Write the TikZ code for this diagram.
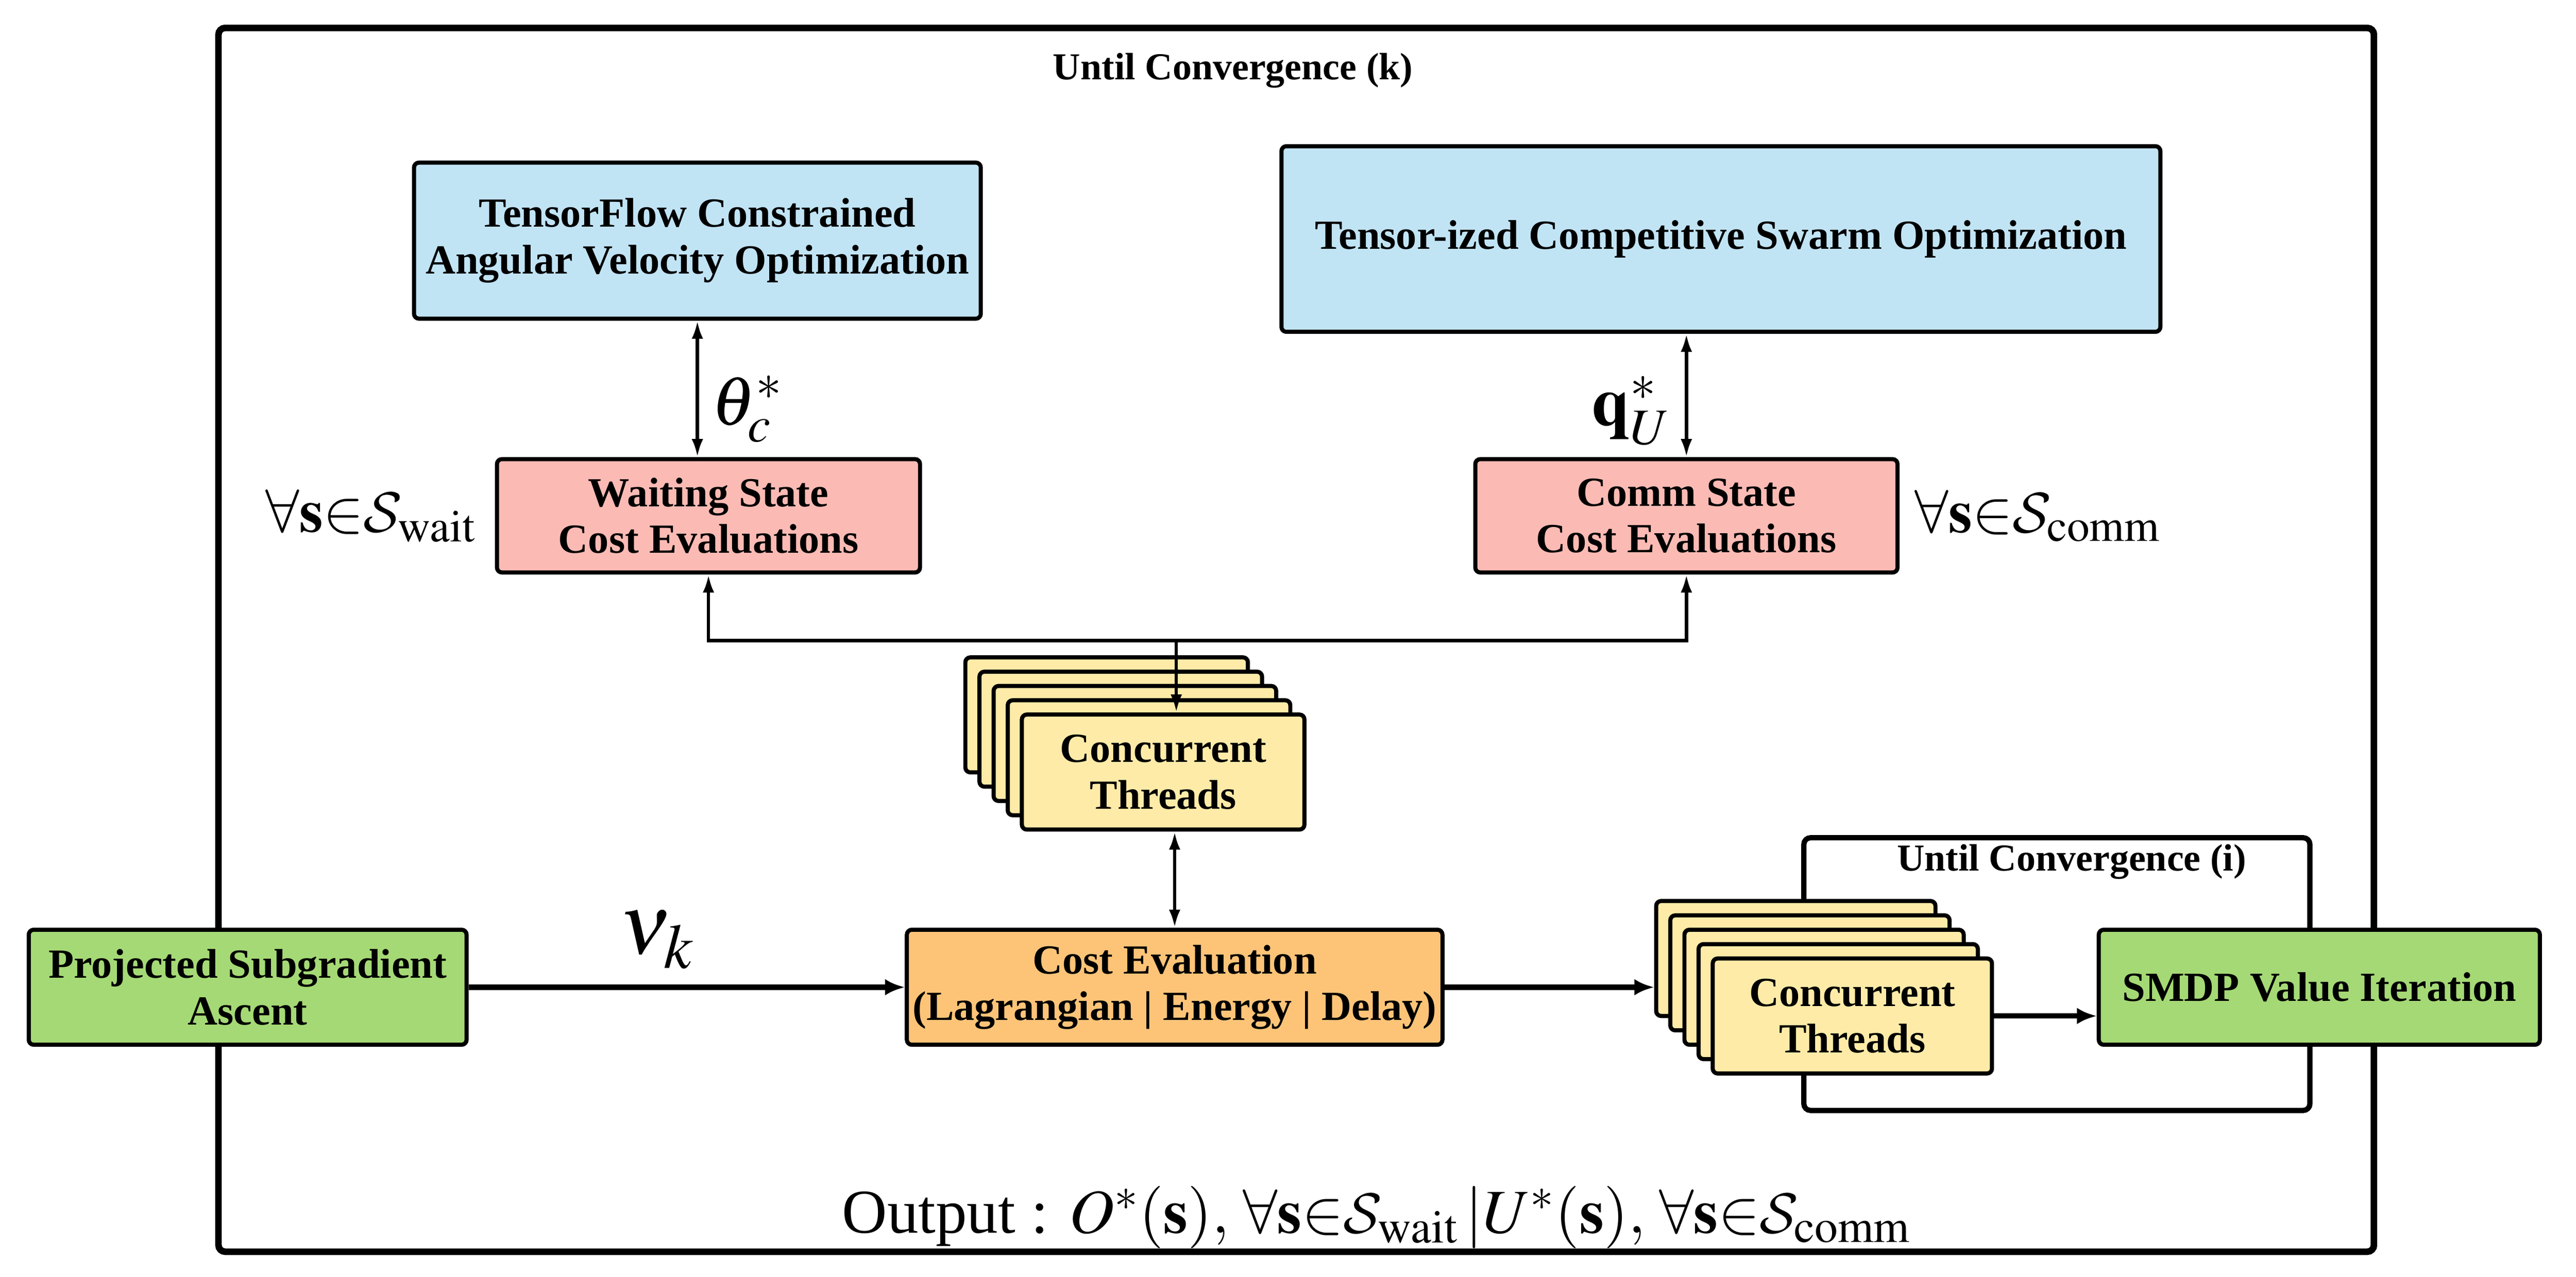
\documentclass[tikz,border=0pt]{standalone}
\usepackage{mathptmx}
\DeclareMathAlphabet{\mathcal}{OMS}{cmsy}{m}{n}
\usepackage{fontspec}
\setmainfont{Liberation Serif}
\usetikzlibrary{arrows.meta}
\definecolor{cblue}{RGB}{193,228,245}
\definecolor{cpink}{RGB}{251,187,180}
\definecolor{cyel}{RGB}{255,235,168}
\definecolor{corange}{RGB}{253,196,120}
\definecolor{cgreen}{RGB}{165,217,117}
\begin{document}
\begin{tikzpicture}[x=0.5pt,y=-0.5pt,
  box/.style={draw, line width=1.25pt, rounded corners=1.5pt, align=center,
    font=\fontsize{12.6}{14.2}\selectfont\bfseries, inner sep=0pt},
  frame/.style={draw, line width=1.8pt, rounded corners=2pt, inner sep=0pt},
  lbl/.style={font=\fontsize{11.6}{13}\selectfont\bfseries, inner sep=0pt},
  thinarr/.style={line width=1pt, -{Latex[length=5.5pt,width=3.5pt]}},
  dblarr/.style={line width=1pt, {Latex[length=5.5pt,width=3.5pt]}-{Latex[length=5.5pt,width=3.5pt]}},
  thickarr/.style={line width=1.6pt, -{Latex[length=6pt,width=5pt]}},
  bigmath/.style={inner sep=0pt, font=\fontsize{18.5}{22}\selectfont},
  thread/.style={box, fill=cyel, minimum width=86pt, minimum height=35pt}
]
\useasboundingbox (0,0) rectangle (1568,777.3);

% outer frame
\node[frame, line width=2pt, minimum width=656pt, minimum height=372.5pt] (outer) at (789,389.5) {};
\node[lbl] (lblk) at (750.5,43) {Until Convergence (k)};

% top boxes
\node[box, fill=cblue, minimum width=172.5pt, minimum height=47.5pt] (tf) at (424.5,146.5)
  {TensorFlow Constrained\\Angular Velocity Optimization};
\node[box, fill=cblue, minimum width=267.5pt, minimum height=56.5pt] (ts) at (1047.5,145.5)
  {Tensor-ized Competitive Swarm Optimization};

\node[box, fill=cpink, minimum width=128.75pt, minimum height=34.5pt] (wait) at (431.25,314)
  {Waiting State\\Cost Evaluations};
\node[box, fill=cpink, minimum width=128.5pt, minimum height=34.5pt] (comm) at (1026.5,314)
  {Comm State\\Cost Evaluations};

\draw[dblarr] (tf.south) -- (tf.south |- wait.north);
\draw[dblarr] (comm.north) -- (comm.north |- ts.south);

\node[bigmath, font=\fontsize{21}{24}\selectfont] (theta) at (455,249) {$\theta_c^*$};
\node[bigmath, font=\fontsize{21}{24}\selectfont] (qlab) at (993,250) {$\mathbf{q}_U^*$};
\node[bigmath] (fwait) at (226,314) {$\forall\mathbf{s}{\in}\mathcal{S}_{\mathrm{wait}}$};
\node[bigmath] (fcomm) at (1240.5,314) {$\forall\mathbf{s}{\in}\mathcal{S}_{\mathrm{comm}}$};

% upper thread stack
\foreach \k/\n in {4/e,3/d,2/c,1/b}
  \node[thread] (tA\n) at ({708-8.6*\k},{470-8.7*\k}) {};
\node[thread] (tA) at (708,470) {Concurrent\\Threads};

\coordinate (jn) at (716,390);
\draw[thinarr] (jn) -| (wait.south);
\draw[thinarr] (jn) -| (comm.south);
\draw[thinarr] (jn) -- (jn |- tA.north);

% middle row
\node[box, fill=cgreen, minimum width=133.25pt, minimum height=35pt] (psa) at (150.75,601)
  {Projected Subgradient\\Ascent};
\node[box, fill=corange, minimum width=163pt, minimum height=35pt] (cost) at (715,601)
  {Cost Evaluation\\(Lagrangian | Energy | Delay)};
\draw[dblarr] (cost.north) -- (cost.north |- tA.south);

\draw[thickarr] (psa.east) -- (cost.west);
\node[inner sep=0pt, font=\fontsize{26}{30}\selectfont] (nu) at (400,572) {$\nu_k$};

% inner loop
\node[frame, line width=1.6pt, minimum width=154pt, minimum height=83pt] (inner) at (1252,593) {};
\node[lbl] (lbli) at (1261,524.5) {Until Convergence (i)};

\foreach \k/\n in {4/e,3/d,2/c,1/b}
  \node[thread, minimum width=85pt] (tB\n) at ({1127.5-8.6*\k},{618.5-8.75*\k}) {};
\node[thread, minimum width=85pt] (tB) at (1127.5,618.5) {Concurrent\\Threads};

\node[box, fill=cgreen, minimum width=134.25pt, minimum height=35pt] (smdp) at (1411.75,601)
  {SMDP Value Iteration};

\draw[thickarr] (cost.east) -- (tBe.west |- cost.east);
\draw[thickarr] (tB.east) -- (tB.east -| smdp.west);

% output
\node[bigmath, font=\fontsize{19}{22}\selectfont] (out) at (838,741)
  {Output : $O^*(\mathbf{s}),\,\forall\mathbf{s}{\in}\mathcal{S}_{\mathrm{wait}}\,|U^*(\mathbf{s}),\,\forall\mathbf{s}{\in}\mathcal{S}_{\mathrm{comm}}$};
\end{tikzpicture}
\end{document}
